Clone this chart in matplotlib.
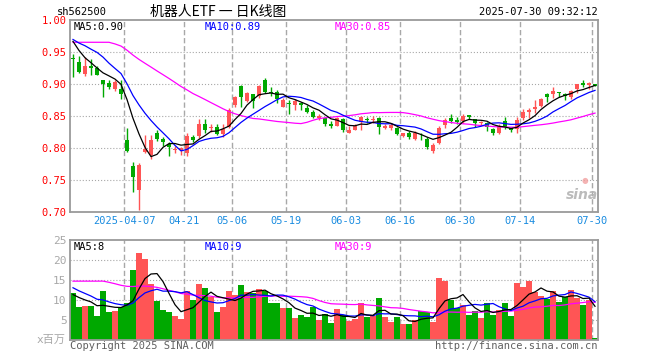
import numpy as np
import pandas as pd
import matplotlib
matplotlib.use("Agg")
import matplotlib.pyplot as plt

plt.rcParams['lines.scale_dashes'] = False

# ---------------- data ----------------
holidays = ['2025-04-04', '2025-05-01', '2025-05-02', '2025-05-05', '2025-06-02']
dates = [d for d in pd.bdate_range('2025-03-24', '2025-07-30').strftime('%Y-%m-%d') if d not in holidays]

opens = [0.941, 0.934, 0.916, 0.928, 0.925, 0.906, 0.902, 0.893, 0.893, 0.8125,
         0.772, 0.734, 0.794, 0.789, 0.823, 0.8146, 0.806, 0.797, 0.7965, 0.793,
         0.818, 0.819, 0.838, 0.832, 0.833, 0.8215, 0.833, 0.867, 0.897, 0.8735,
         0.884, 0.881, 0.907, 0.887, 0.888, 0.865, 0.870, 0.868, 0.8705, 0.863,
         0.857, 0.8464, 0.8465, 0.838, 0.835, 0.8453, 0.8234, 0.8286, 0.841, 0.8458,
         0.8432, 0.8474, 0.8307, 0.8307, 0.8313, 0.8188, 0.824, 0.8146, 0.8208, 0.8146,
         0.7948, 0.8073, 0.8354, 0.8469, 0.8438, 0.8417, 0.852, 0.8448, 0.8385, 0.8385,
         0.8292, 0.8229, 0.8417, 0.8307, 0.8297, 0.8464, 0.8568, 0.861, 0.8661, 0.8839,
         0.8849, 0.888, 0.8839, 0.8807, 0.8932, 0.9026, 0.8984, 0.9005]
highs = [0.947, 0.944, 0.942, 0.939, 0.929, 0.906, 0.906, 0.907, 0.906, 0.831,
         0.778, 0.777, 0.820, 0.820, 0.829, 0.818, 0.809, 0.804, 0.802, 0.823,
         0.821, 0.845, 0.845, 0.838, 0.838, 0.837, 0.863, 0.881, 0.898, 0.888,
         0.885, 0.8995, 0.910, 0.895, 0.891, 0.8786, 0.8745, 0.8766, 0.872, 0.867,
         0.860, 0.8526, 0.8484, 0.842, 0.8484, 0.8464, 0.834, 0.838, 0.8495, 0.8484,
         0.8495, 0.8484, 0.837, 0.839, 0.8333, 0.824, 0.826, 0.826, 0.8229, 0.8167,
         0.8073, 0.8344, 0.8469, 0.8531, 0.849, 0.8531, 0.852, 0.8458, 0.8417, 0.8406,
         0.8313, 0.8375, 0.8484, 0.8318, 0.8484, 0.861, 0.863, 0.8755, 0.8786, 0.886,
         0.8953, 0.888, 0.886, 0.891, 0.9005, 0.9068, 0.9036, 0.9005]
lows = [0.911, 0.917, 0.913, 0.914, 0.914, 0.880, 0.892, 0.890, 0.877, 0.794,
        0.731, 0.703, 0.793, 0.783, 0.8115, 0.804, 0.7875, 0.793, 0.789, 0.787,
        0.809, 0.816, 0.823, 0.8245, 0.820, 0.818, 0.8307, 0.864, 0.865, 0.8724,
        0.862, 0.8786, 0.886, 0.882, 0.870, 0.864, 0.8536, 0.859, 0.859, 0.8547,
        0.8464, 0.8443, 0.834, 0.8307, 0.834, 0.8245, 0.8234, 0.8276, 0.8276, 0.840,
        0.840, 0.8214, 0.8297, 0.8286, 0.8198, 0.8167, 0.8135, 0.8125, 0.8125, 0.799,
        0.7917, 0.8063, 0.8313, 0.8396, 0.8375, 0.8385, 0.8448, 0.8323, 0.8365, 0.826,
        0.8198, 0.822, 0.8297, 0.8245, 0.8234, 0.8443, 0.8464, 0.8547, 0.865, 0.8724,
        0.8786, 0.8797, 0.8745, 0.8776, 0.886, 0.8953, 0.8932, 0.8974]
closes = [0.939, 0.919, 0.928, 0.926, 0.915, 0.901, 0.895, 0.903, 0.885, 0.796,
          0.754, 0.773, 0.798, 0.8125, 0.8135, 0.809, 0.802, 0.799, 0.7995, 0.819,
          0.813, 0.838, 0.828, 0.833, 0.8215, 0.8305, 0.859, 0.880, 0.880, 0.887,
          0.8735, 0.897, 0.888, 0.886, 0.8765, 0.8745, 0.869, 0.8735, 0.867, 0.857,
          0.8485, 0.8505, 0.838, 0.835, 0.8474, 0.8286, 0.8286, 0.835, 0.8484, 0.8445,
          0.8453, 0.8328, 0.835, 0.836, 0.822, 0.8229, 0.8177, 0.824, 0.8198, 0.802,
          0.8052, 0.831, 0.844, 0.8417, 0.8406, 0.850, 0.848, 0.8385, 0.8406, 0.8333,
          0.824, 0.8345, 0.8328, 0.8286, 0.8432, 0.857, 0.860, 0.865, 0.8765, 0.8797,
          0.889, 0.886, 0.8818, 0.890, 0.9005, 0.8995, 0.9026, 0.8974]
volumes = [11.75, 8.25, 8.5, 8.5, 6.0, 12.25, 7.0, 7.25, 8.25, 9.25,
           17.5, 21.75, 20.25, 14.0, 9.75, 7.5, 7.0, 6.0, 5.25, 12.25,
           10.0, 14.0, 13.0, 10.75, 7.0, 8.25, 12.25, 11.25, 13.75, 12.0,
           11.75, 12.75, 12.25, 9.25, 9.25, 8.0, 8.0, 5.5, 6.25, 5.75,
           8.25, 5.0, 6.5, 4.25, 7.75, 6.25, 4.75, 5.25, 9.25, 5.75,
           6.0, 10.5, 5.75, 4.5, 5.75, 4.0, 4.0, 5.0, 7.25, 7.0,
           4.5, 15.5, 14.75, 10.0, 8.0, 8.75, 6.25, 7.25, 5.5, 9.25,
           6.25, 7.5, 9.25, 6.0, 14.25, 13.25, 14.75, 12.0, 11.0, 10.25,
           12.25, 9.5, 10.75, 12.5, 10.5, 8.75, 10.0, 0.5]

# sessions before the visible window (estimated so the moving averages start where the chart shows)
pre_closes = [0.919, 0.928, 0.926, 0.915, 0.901, 0.895,
              0.98, 0.985, 0.99, 0.985, 0.975, 0.98, 0.99, 0.995, 0.985, 0.98, 0.985, 0.99, 0.98, 0.984,
              0.975, 0.97, 0.98, 0.965, 0.975,
              0.99, 0.985, 0.965, 0.956]
pre_volumes = [8.0, 8.5, 8.5, 6.0, 12.0,
               16, 18, 20, 17, 19, 18, 21, 17, 16, 18, 19, 17, 18, 17, 17.5,
               16, 15, 15, 14, 14,
               12, 11.5, 11, 10.75]

tick_dates = ['2025-04-07', '2025-04-21', '2025-05-06', '2025-05-19', '2025-06-03',
              '2025-06-16', '2025-06-30', '2025-07-14', '2025-07-30']
tick_texts = ['2025-04-07', '04-21', '05-06', '05-19', '06-03', '06-16', '06-30', '07-14', '07-30']

code = 'sh562500'
title = '机器人ETF 一 日K线图'
stamp = '2025-07-30 09:32:12'

# ---------------- derived ----------------
n = len(closes)
x = np.arange(n)
O = np.array(opens); Hh = np.array(highs); L = np.array(lows); C = np.array(closes)
V = np.array(volumes)
full_c = pd.Series(list(pre_closes) + list(closes))
full_v = pd.Series(list(pre_volumes) + list(volumes))
npre = len(pre_closes)
ma = {w: full_c.rolling(w).mean().values[npre:] for w in (5, 10, 30)}
vma = {w: full_v.rolling(w).mean().values[npre:] for w in (5, 10, 30)}

RED = '#ff5555'
GREEN = '#00a800'
up = C >= O
cols = np.where(up, RED, GREEN)
MA_COLS = {5: 'black', 10: '#0000ff', 30: '#ff00ff'}

W, Hpx = 660, 360
fig = plt.figure(figsize=(6.6, 3.6), dpi=100)
fig.patch.set_facecolor('white')

def box(l, t, r, b):
    return [l / W, 1 - b / Hpx, (r - l) / W, (b - t) / Hpx]

def fx(px):
    return px / W

def fy(py):
    return 1 - py / Hpx

MONO = 'DejaVu Sans Mono'
FRAME = '#9a9a9a'
GRID = '#a8a8a8'

axp = fig.add_axes(box(70, 20.3, 598, 212))
axv = fig.add_axes(box(70, 240.3, 598, 340))

tick_idx = [dates.index(d) for d in tick_dates]
grid_x = [i - 0.5 for i in tick_idx]

for ax in (axp, axv):
    ax.set_xlim(-0.5, n - 0.5)
    for s in ax.spines.values():
        s.set_color(FRAME)
        s.set_linewidth(1.3)
    for gx in grid_x:
        ax.axvline(gx, color=GRID, lw=1.0, dashes=(3.8, 2.0), zorder=0)
    ax.tick_params(length=0)

# ---- price panel ----
axp.set_ylim(0.70, 1.00)
pyt = [0.70, 0.75, 0.80, 0.85, 0.90, 0.95, 1.00]
for yv in pyt[1:-1]:
    axp.axhline(yv, color=GRID, lw=0.8, dashes=(0.8, 1.4), zorder=0)
axp.set_yticks(pyt)
axp.set_yticklabels(['%.2f' % v for v in pyt], color='red', fontsize=7.5, family=MONO)
axp.tick_params(axis='y', pad=2.5)
axp.set_xticks(grid_x)
axp.set_xticklabels(tick_texts, color='#1a8ce0', fontsize=7.5, family=MONO)
axp.tick_params(axis='x', pad=3)

axp.vlines(x, L, Hh, colors=cols, lw=1.0, zorder=2)
body_h = np.maximum(np.abs(C - O), 0.0012)
axp.bar(x, body_h, bottom=np.minimum(O, C), width=0.75, color=cols, lw=0, zorder=3)
for w in (30, 10, 5):
    axp.plot(x, ma[w], color=MA_COLS[w], lw=0.9, zorder=4)

# ---- volume panel ----
axv.set_ylim(0, 25)
for yv in (5, 10, 15, 20):
    axv.axhline(yv, color=GRID, lw=0.8, dashes=(0.8, 1.4), zorder=0)
axv.set_yticks([5, 10, 15, 20, 25])
axv.set_yticklabels(['5', '10', '15', '20', '25'], color='#a8a8a8', fontsize=8, family=MONO)
axv.tick_params(axis='y', pad=2.5)
axv.set_xticks([])
axv.bar(x, V, width=0.85, color=cols, lw=0, zorder=2)
for w in (30, 10, 5):
    axv.plot(x, vma[w], color=MA_COLS[w], lw=0.9, zorder=4)

# ---- texts ----
fig.text(fx(57), fy(12), code, fontsize=7.5, family=MONO, va='center', ha='left')
fig.text(fx(150), fy(12), title, fontsize=10, family=['Noto Sans CJK SC', 'DejaVu Sans'],
         va='center', ha='left')
fig.text(fx(598), fy(12), stamp, fontsize=7.5, family=MONO, va='center', ha='right')

fig.text(fx(74), fy(26.5), 'MA5:%.2f' % ma[5][-1], color=MA_COLS[5], fontsize=7.5, family=MONO, va='center')
fig.text(fx(204.5), fy(26.5), 'MA10:%.2f' % ma[10][-1], color=MA_COLS[10], fontsize=7.5, family=MONO, va='center')
fig.text(fx(335), fy(26.5), 'MA30:%.2f' % ma[30][-1], color=MA_COLS[30], fontsize=7.5, family=MONO, va='center')

fig.text(fx(74), fy(246.5), 'MA5:%d' % int(vma[5][-1]), color=MA_COLS[5], fontsize=7.5, family=MONO, va='center')
fig.text(fx(204.5), fy(246.5), 'MA10:%d' % int(vma[10][-1]), color=MA_COLS[10], fontsize=7.5, family=MONO, va='center')
fig.text(fx(335), fy(246.5), 'MA30:%d' % int(vma[30][-1]), color=MA_COLS[30], fontsize=7.5, family=MONO, va='center')

fig.text(fx(66), fy(340), 'x百万', color='#a8a8a8', fontsize=8,
         family=[MONO, 'Noto Sans CJK SC'], va='center', ha='right')
fig.text(fx(70), fy(346), 'Copyright 2025 SINA.COM', color='#606060', fontsize=7.5, family=MONO,
         va='center', ha='left')
fig.text(fx(598), fy(346), 'http://finance.sina.com.cn', color='#606060', fontsize=7.5, family=MONO,
         va='center', ha='right')

# watermark
fig.text(fx(582), fy(195), 'sina', color='#b4b4b4', fontsize=10, style='italic', weight='bold',
         family='DejaVu Sans', va='center', ha='center', alpha=0.9)
fig.text(fx(585), fy(181), '●', color='#f2a0a0', fontsize=5.5, va='center', ha='center', alpha=0.8)

fig.savefig('out.png', dpi=100, facecolor='white')
